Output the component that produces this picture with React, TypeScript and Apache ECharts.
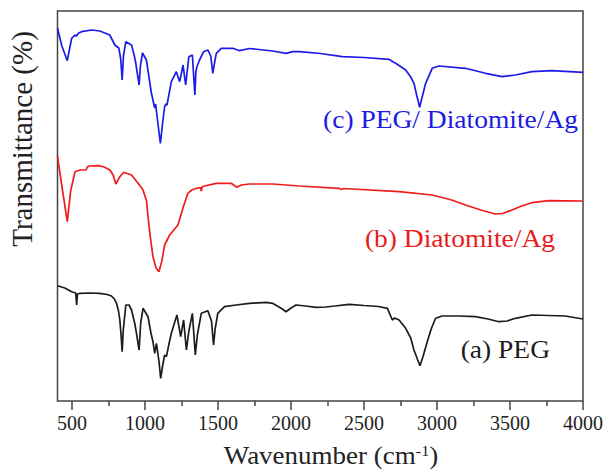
import React, { useEffect, useRef } from "react";
import * as echarts from "echarts";

// (a) PEG
const pegWn = [400, 450, 497, 525, 531, 537, 554, 620, 690, 740, 770, 790, 804, 818, 827, 836, 843, 850, 868, 890, 907, 930, 941, 959, 970, 986, 1020, 1040, 1054, 1066, 1078, 1095, 1107, 1120, 1134, 1146, 1165, 1180, 1218, 1244, 1264, 1283, 1300, 1324, 1344, 1358, 1385, 1430, 1455, 1469, 1480, 1498, 1544, 1624, 1715, 1829, 1874, 1940, 1966, 2000, 2034, 2100, 2171, 2239, 2300, 2398, 2500, 2600, 2660, 2694, 2710, 2740, 2785, 2820, 2842, 2865, 2883, 2905, 2933, 2960, 2990, 3035, 3150, 3263, 3350, 3423, 3480, 3537, 3650, 3878, 4000];
const pegT = [115.3, 113, 109.3, 108, 96, 107, 107.7, 108, 107.7, 106.5, 105, 102, 97.7, 90, 81, 65, 49.3, 70, 96, 96, 91, 77, 67.7, 51, 78, 92.7, 84.3, 68, 59.3, 47.7, 57.7, 40, 22.7, 35, 46, 44.3, 58, 67.7, 86, 64.3, 81, 51, 70, 87.7, 46, 66, 87.7, 90.3, 80, 56, 72, 87.7, 94.3, 96, 97.7, 98.7, 97.7, 92, 89.3, 93, 96, 95, 93.7, 94, 95, 96.7, 95.5, 94.5, 92.7, 81, 83, 81, 72.7, 63, 51, 42, 35.3, 45, 59.3, 72, 82.7, 85, 85, 84.3, 82, 79.3, 80, 82.7, 86, 85, 82];

// (b) Diatomite/Ag
const diaWn = [400, 430, 467, 490, 520, 554, 595, 605, 617, 679, 720, 759, 781, 800, 827, 854, 907, 952, 986, 1010, 1020, 1035, 1054, 1075, 1095, 1115, 1134, 1168, 1225, 1259, 1293, 1320, 1351, 1380, 1385, 1390, 1407, 1488, 1590, 1628, 1660, 1715, 1874, 2057, 2330, 2345, 2360, 2740, 2967, 3100, 3195, 3300, 3400, 3450, 3513, 3580, 3650, 3764, 4000];
const diaT = [244.3, 215, 179.3, 210, 229.3, 231, 231, 234, 235, 235.3, 234, 231, 226, 217, 224.3, 228.7, 226, 217.7, 211, 200, 184.3, 165, 144.3, 133, 129.3, 140, 156, 166, 176, 192.7, 207.7, 211, 212.7, 213.5, 210, 214, 215, 217.7, 217.7, 213.7, 216, 217, 217, 215, 212.7, 211.5, 212.5, 209.3, 206, 201, 196, 191, 187, 187.5, 191, 195, 198.3, 200.3, 200];

// (c) PEG/ Diatomite/Ag
const compWn = [400, 430, 467, 480, 497, 520, 530, 545, 565, 633, 690, 758, 793, 820, 833, 843, 852, 868, 907, 925, 936, 959, 968, 982, 1009, 1043, 1066, 1072, 1090, 1105, 1120, 1134, 1142, 1150, 1180, 1214, 1237, 1260, 1278, 1300, 1324, 1341, 1348, 1355, 1373, 1401, 1430, 1450, 1464, 1478, 1488, 1522, 1601, 1647, 1715, 1874, 1966, 2011, 2057, 2200, 2352, 2500, 2671, 2700, 2717, 2785, 2820, 2842, 2862, 2881, 2900, 2922, 2967, 3013, 3195, 3332, 3445, 3537, 3650, 3787, 4000];
const compT = [372.7, 355, 340.3, 350, 362.7, 366, 365, 368, 369.3, 371, 370, 366, 356, 353, 342, 321, 345, 359.3, 356, 346, 338, 316, 335, 348, 341, 308, 293, 297, 275, 257.7, 278, 294.3, 297, 296, 319.3, 329.3, 319.3, 336, 316, 344.3, 346, 306, 329, 334.3, 341, 349.3, 351, 345, 327.7, 340, 347.7, 352.7, 352.7, 350.3, 352.5, 350, 347.7, 349.3, 349.3, 347.5, 344.3, 343.5, 341.7, 339, 337.7, 331, 324, 317.7, 305, 293.7, 305, 317.7, 332.7, 335, 332.7, 327.7, 324.3, 326, 329.3, 330.3, 328.7];

const majorTicks = [500, 1000, 1500, 2000, 2500, 3000, 3500, 4000];
const minorTicks = [750, 1250, 1750, 2250, 2750, 3250, 3750];

const seriesNames = ["(a) PEG", "(b) Diatomite/Ag", "(c) PEG/ Diatomite/Ag"];
const seriesColors = ["#1c1c1c", "#ee1c1c", "#1c1ce6"];

const FONT = "'Liberation Serif', 'Times New Roman', serif";

const zip = (xs: number[], ys: number[]) => xs.map((x, i) => [x, ys[i]]);

export default function App() {
  const ref = useRef<HTMLDivElement>(null);
  useEffect(() => {
    if (!ref.current) return;
    const chart = echarts.init(ref.current, undefined, { renderer: "svg" });
    const datasets = [zip(pegWn, pegT), zip(diaWn, diaT), zip(compWn, compT)];
    chart.setOption({
      animation: false,
      backgroundColor: "#ffffff",
      grid: {
        left: 57.5,
        right: 22,
        top: 11,
        bottom: 68,
        show: true,
        borderColor: "#444",
        borderWidth: 1.5,
        backgroundColor: "transparent",
      },
      xAxis: [
        {
          type: "value",
          min: 400,
          max: 4000,
          position: "bottom",
          axisLine: { show: false },
          splitLine: { show: false },
          axisTick: {
            show: true,
            inside: false,
            length: 9,
            customValues: majorTicks,
            lineStyle: { color: "#444", width: 1.5 },
          },
          axisLabel: {
            show: true,
            customValues: majorTicks,
            formatter: (v: number) => String(v),
            fontFamily: FONT,
            fontSize: 20,
            color: "#222",
            margin: 12,
          },
        },
        {
          type: "value",
          min: 400,
          max: 4000,
          position: "bottom",
          axisLine: { show: false },
          splitLine: { show: false },
          axisTick: {
            show: true,
            inside: false,
            length: 5,
            customValues: minorTicks,
            lineStyle: { color: "#444", width: 1.5 },
          },
          axisLabel: { show: false },
        },
      ],
      yAxis: {
        type: "value",
        min: 0,
        max: 390,
        axisLine: { show: false },
        axisTick: { show: false },
        axisLabel: { show: false },
        splitLine: { show: false },
      },
      series: [
        ...datasets.map((d, i) => ({
          type: "line",
          name: seriesNames[i],
          data: d,
          xAxisIndex: 0,
          showSymbol: false,
          symbol: "none",
          smooth: false,
          lineStyle: { color: seriesColors[i], width: 1.7 },
        })),
        { type: "line", name: "minor", xAxisIndex: 1, data: [], showSymbol: false },
      ],
      graphic: [
        {
          type: "text",
          x: 550,
          y: 349.5,
          scaleX: 1.1,
          style: {
            text: seriesNames[0],
            fontFamily: FONT,
            fontSize: 25,
            fill: "#1c1c1c",
            textAlign: "right",
            textVerticalAlign: "middle",
          },
        },
        {
          type: "text",
          x: 555,
          y: 238.5,
          scaleX: 1.1,
          style: {
            text: seriesNames[1],
            fontFamily: FONT,
            fontSize: 25,
            fill: "#e81c1c",
            textAlign: "right",
            textVerticalAlign: "middle",
          },
        },
        {
          type: "text",
          x: 578,
          y: 120,
          scaleX: 1.1,
          style: {
            text: seriesNames[2],
            fontFamily: FONT,
            fontSize: 25,
            fill: "#1c1ce0",
            textAlign: "right",
            textVerticalAlign: "middle",
          },
        },
        {
          type: "text",
          x: 22,
          y: 139,
          rotation: Math.PI / 2,
          style: {
            text: "Transmittance (%)",
            fontFamily: FONT,
            fontSize: 29,
            fill: "#222",
            textAlign: "center",
            textVerticalAlign: "middle",
          },
        },
        {
          type: "text",
          x: 331,
          y: 456,
          scaleX: 1.08,
          style: {
            text: "{a|Wavenumber (cm}{s|-1}{a|)}",
            fontFamily: FONT,
            fill: "#222",
            textAlign: "center",
            textVerticalAlign: "middle",
            rich: {
              a: { fontFamily: FONT, fontSize: 25, lineHeight: 26, fill: "#222" },
              s: { fontFamily: FONT, fontSize: 15, lineHeight: 15, verticalAlign: "top", fill: "#222" },
            },
          },
        },
      ],
    });
    return () => chart.dispose();
  }, []);
  return <div ref={ref} style={{ width: 606, height: 469, position: "absolute", left: 0, top: 0 }} />;
}
